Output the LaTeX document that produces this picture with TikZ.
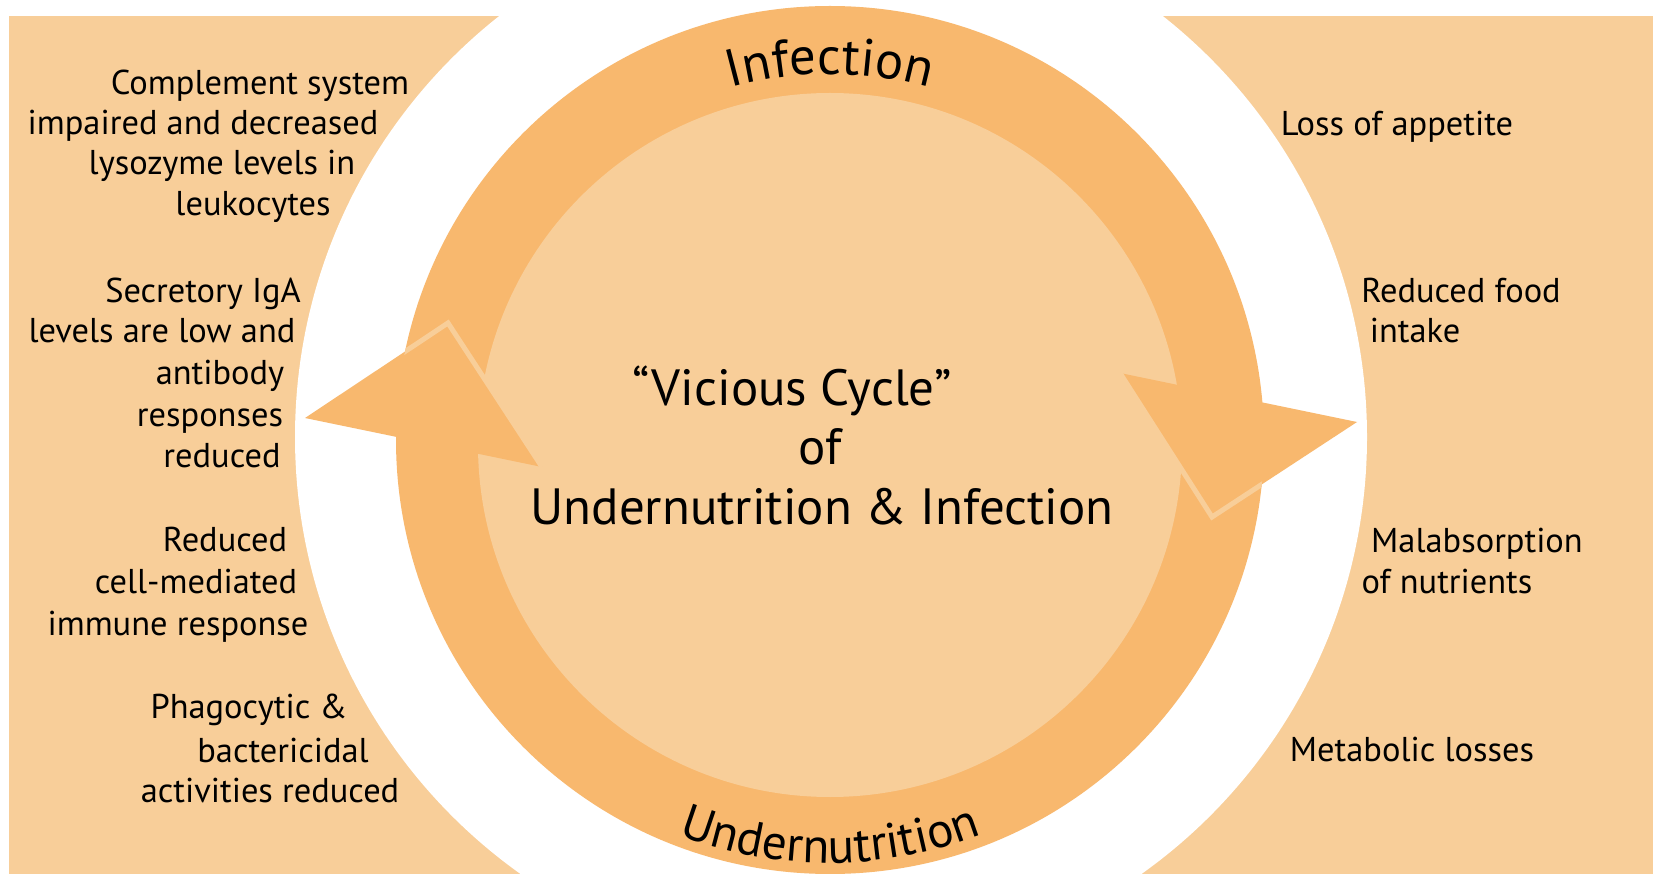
\documentclass[tikz,border=0pt]{standalone}
\usepackage{fontspec}
\setmainfont{PT Sans}
\usepackage{tikz}
\usetikzlibrary{positioning, calc, decorations.text}
\definecolor{PeachColor}{RGB}{248,206,153}
\definecolor{RingColor}{RGB}{248,184,110}
\tikzstyle{sidetext} = [font=\fontsize{19.6}{23}\selectfont, text=black, inner sep=0pt, anchor=base]
\tikzstyle{centertext} = [font=\fontsize{29}{35}\selectfont, text=black, inner sep=0pt, anchor=base]
\tikzstyle{headfill} = [fill=RingColor]
\tikzstyle{headedge} = [draw=PeachColor, line width=0.1cm, line join=miter]
\newcommand{\topfont}{\fontsize{30}{30}\selectfont}
\newcommand{\botfont}{\fontsize{28}{28}\selectfont}

\begin{document}
\begin{tikzpicture}[x=0.02cm, y=0.02cm]
\useasboundingbox (0,0) rectangle (1653,-874);
\fill[white] (0,0) rectangle (1653,-874);
\fill[PeachColor] (9,-16) rectangle (1653,-874);

\coordinate (mid) at (830,-440);
\fill[white] (831,-437) circle (536);
\fill[RingColor] (mid) circle (434);
\fill[PeachColor] (830,-445) circle (352);

\coordinate (ltop) at (448,-323);
\coordinate (ltip) at (305,-418);
\coordinate (lbot) at (542,-467);
\coordinate (rtop) at (1120,-373);
\coordinate (rtip) at (1357,-422);
\coordinate (rbot) at (1212,-517);
\fill[headfill] (ltop) -- (ltip) -- (lbot) -- cycle;
\fill[headfill] (rtop) -- (rtip) -- (rbot) -- cycle;
\begin{scope}
  \clip (mid) circle (434);
  \draw[headedge] (ltip) -- (ltop) -- (lbot);
  \draw[headedge] (rtip) -- (rbot) -- (rtop);
\end{scope}

\path[decorate, decoration={text along path, text={|\topfont|Infection}, text align=center}]
  ([shift={(130:366)}]mid) arc[start angle=130, end angle=50, radius=366];
\path[decorate, decoration={text along path, text={|\botfont|Undernutrition}, text align=center}]
  ([shift={(235:423)}]mid) arc[start angle=235, end angle=305, radius=423];

\node[centertext] (vicious) at (792,-406) {``Vicious Cycle''};
\node[centertext] (of) at (820,-465) {of};
\node[centertext] (undinf) at (822,-524) {Undernutrition \& Infection};

\foreach \n/\x/\y/\t in {
  cs1/260/95/Complement system, cs2/203/135/impaired and decreased,
  cs3/222/175/lysozyme levels in, cs4/253/216/leukocytes,
  ig1/203/303/Secretory IgA, ig2/162/343/levels are low and,
  ig3/220/385/antibody, ig4/210/427/responses, ig5/222/468/reduced,
  cm1/225/552/Reduced, cm2/196/593/cell-mediated, cm3/178/635/immune response,
  ph1/249/718/Phagocytic \&, ph2/283/762/bactericidal, ph3/270/802/activities reduced,
  ap1/1397/136/Loss of appetite,
  fd1/1461/303/Reduced food, fd2/1415/343/intake,
  ma1/1477/553/Malabsorption, ma2/1447/593/of nutrients,
  ml1/1412/761/Metabolic losses}
  \node[sidetext] (\n) at (\x,-\y) {\t};
\end{tikzpicture}
\end{document}
